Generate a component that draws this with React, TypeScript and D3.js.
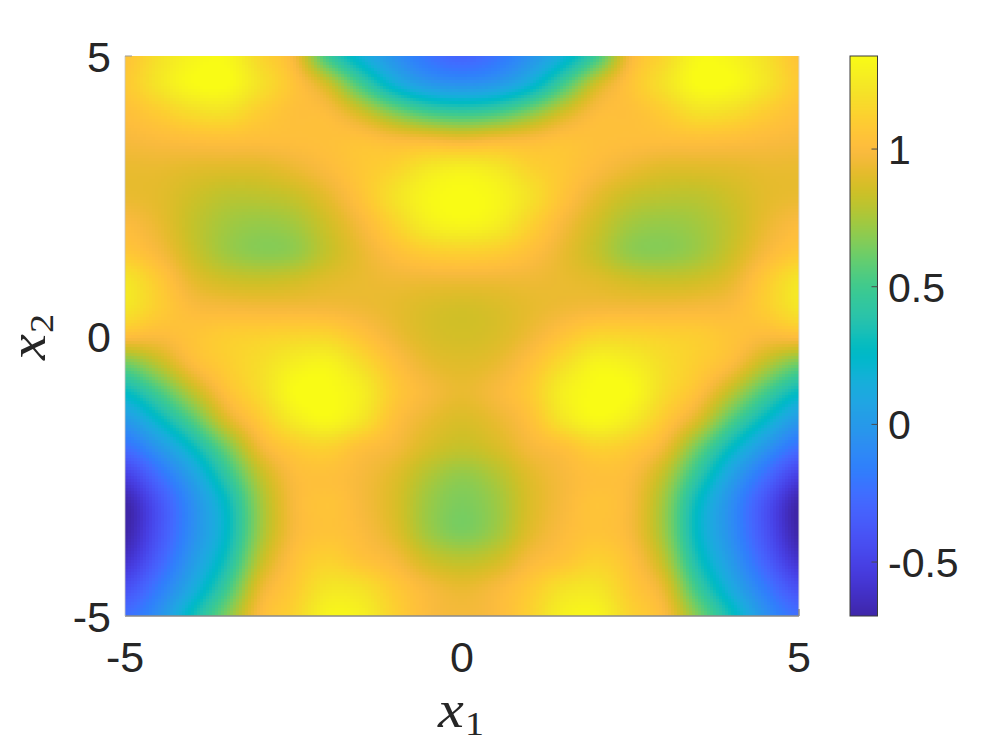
import React, { useEffect, useRef } from "react";
import * as d3 from "d3";

const x1Grid = [-5,-4.5,-4,-3.5,-3,-2.5,-2,-1.5,-1,-0.5,0,0.5,1,1.5,2,2.5,3,3.5,4,4.5,5];
const x2Grid = [5,4.5,4,3.5,3,2.5,2,1.5,1,0.5,0,-0.5,-1,-1.5,-2,-2.5,-3,-3.5,-4,-4.5,-5];
const fieldRows: number[][] = [
  [1.05,1.2,1.3,1.32,1.15,0.98,0.5,0.18,-0.05,-0.22,-0.3,-0.22,-0.05,0.18,0.5,0.98,1.15,1.32,1.3,1.2,1.05],
  [1.08,1.22,1.33,1.34,1.2,1.05,0.85,0.5,0.18,0.0,-0.05,0.0,0.18,0.5,0.85,1.05,1.2,1.34,1.33,1.22,1.08],
  [1.03,1.1,1.18,1.2,1.1,1.03,1.0,0.85,0.65,0.5,0.45,0.5,0.65,0.85,1.0,1.03,1.1,1.2,1.18,1.1,1.03],
  [0.98,1.0,1.02,1.03,1.02,1.02,1.03,1.04,1.0,0.98,0.95,0.98,1.0,1.04,1.03,1.02,1.02,1.03,1.02,1.0,0.98],
  [0.93,0.93,0.91,0.9,0.9,0.94,1.0,1.07,1.13,1.23,1.27,1.23,1.13,1.07,1.0,0.94,0.9,0.9,0.91,0.93,0.93],
  [0.93,0.91,0.85,0.8,0.8,0.83,0.92,1.05,1.2,1.31,1.34,1.31,1.2,1.05,0.92,0.83,0.8,0.8,0.85,0.91,0.93],
  [1.0,0.93,0.82,0.74,0.71,0.74,0.85,0.98,1.13,1.27,1.31,1.27,1.13,0.98,0.85,0.74,0.71,0.74,0.82,0.93,1.0],
  [1.07,0.98,0.84,0.73,0.68,0.7,0.82,0.93,1.03,1.1,1.12,1.1,1.03,0.93,0.82,0.7,0.68,0.73,0.84,0.98,1.07],
  [1.22,1.08,0.92,0.85,0.83,0.85,0.9,0.93,0.95,0.95,0.95,0.95,0.95,0.93,0.9,0.85,0.83,0.85,0.92,1.08,1.22],
  [1.22,1.1,1.0,0.98,0.97,0.97,0.97,0.95,0.92,0.88,0.86,0.88,0.92,0.95,0.97,0.97,0.97,0.98,1.0,1.1,1.22],
  [1.02,1.0,1.05,1.1,1.12,1.14,1.14,1.05,0.95,0.88,0.86,0.88,0.95,1.05,1.14,1.14,1.12,1.1,1.05,1.0,1.02],
  [0.62,0.8,1.0,1.1,1.18,1.27,1.3,1.18,1.03,0.93,0.9,0.93,1.03,1.18,1.3,1.27,1.18,1.1,1.0,0.8,0.62],
  [0.28,0.52,0.8,1.03,1.17,1.33,1.34,1.27,1.08,0.98,0.93,0.98,1.08,1.27,1.34,1.33,1.17,1.03,0.8,0.52,0.28],
  [0.0,0.25,0.55,0.88,1.08,1.25,1.32,1.22,1.03,0.93,0.88,0.93,1.03,1.22,1.32,1.25,1.08,0.88,0.55,0.25,0.0],
  [-0.25,-0.02,0.27,0.62,0.95,1.08,1.12,1.03,0.97,0.87,0.82,0.87,0.97,1.03,1.12,1.08,0.95,0.62,0.27,-0.02,-0.25],
  [-0.52,-0.25,0.05,0.42,0.8,1.0,1.03,0.98,0.9,0.77,0.7,0.77,0.9,0.98,1.03,1.0,0.8,0.42,0.05,-0.25,-0.52],
  [-0.7,-0.4,-0.07,0.27,0.72,0.98,1.05,0.98,0.88,0.72,0.65,0.72,0.88,0.98,1.05,0.98,0.72,0.27,-0.07,-0.4,-0.7],
  [-0.7,-0.4,-0.07,0.25,0.72,0.98,1.05,1.0,0.9,0.73,0.65,0.73,0.9,1.0,1.05,0.98,0.72,0.25,-0.07,-0.4,-0.7],
  [-0.6,-0.32,0.0,0.33,0.8,1.03,1.12,1.05,0.98,0.85,0.8,0.85,0.98,1.05,1.12,1.03,0.8,0.33,0.0,-0.32,-0.6],
  [-0.42,-0.18,0.12,0.48,0.92,1.08,1.22,1.2,1.08,0.98,0.93,0.98,1.08,1.2,1.22,1.08,0.92,0.48,0.12,-0.18,-0.42],
  [-0.25,-0.05,0.3,0.65,1.0,1.13,1.3,1.28,1.12,1.0,0.97,1.0,1.12,1.28,1.3,1.13,1.0,0.65,0.3,-0.05,-0.25],
];
const axisTicks = [-5, 0, 5];
const colorTicks = [-0.5, 0, 0.5, 1];
const colorDomain = [-0.696, 1.338];
const parula: number[][] = [
[.2422,.1504,.6603],[.2504,.165,.7076],[.2578,.1818,.7511],[.2647,.1978,.7952],[.2706,.2147,.8364],[.2751,.2342,.871],[.2783,.2559,.8991],[.2803,.2782,.9221],[.2813,.3006,.9414],[.281,.3228,.9579],[.2795,.3447,.9717],[.276,.3667,.9829],[.2699,.3892,.9906],[.2602,.4123,.9952],[.244,.4358,.9988],[.2206,.4603,.9973],[.1963,.4847,.9892],[.1834,.5074,.9798],[.1786,.5289,.9682],[.1764,.5499,.952],[.1687,.5703,.9359],[.154,.5902,.9218],[.146,.6091,.9079],[.138,.6276,.8973],[.1248,.6459,.8883],[.1113,.6635,.8763],[.0952,.6798,.8598],[.0689,.6948,.8394],[.0297,.7082,.8163],[.0036,.7203,.7917],[.0067,.7312,.766],[.0433,.7411,.7394],[.0964,.75,.712],[.1408,.7584,.6842],[.1717,.767,.6554],[.1938,.7758,.6251],[.2161,.7843,.5923],[.247,.7918,.5567],[.2906,.7973,.5188],[.3406,.8008,.4789],[.3909,.8029,.4354],[.4456,.8024,.3909],[.5044,.7993,.348],[.5616,.7942,.3045],[.6174,.7876,.2612],[.672,.7793,.2227],[.7242,.7698,.191],[.7738,.7598,.1646],[.8203,.7498,.1535],[.8634,.7406,.1596],[.9035,.733,.1774],[.9393,.7288,.21],[.9728,.7298,.2394],[.9956,.7434,.2371],[.997,.7659,.2199],[.9952,.7893,.2028],[.9892,.8136,.1885],[.9786,.8386,.1766],[.9676,.8639,.1643],[.961,.889,.1537],[.9597,.9135,.1423],[.9628,.9373,.1265],[.9691,.9606,.1064],[.9769,.9839,.0805],
];

const W = 997, H = 747;
const plot = { l: 125, r: 799, t: 56, b: 616 };
const bar = { l: 850, r: 877.5, t: 56, b: 616 };
const sans = "'Liberation Sans', Arial, sans-serif";
const serif = "'Liberation Serif', serif";
const ink = "#262626";

// Catmull-Rom lookup between the read grid values (MATLAB "shading interp" look).
function cubic(a: number, b: number, c: number, d: number, t: number) {
  return b + 0.5 * t * (c - a + t * (2 * a - 5 * b + 4 * c - d + t * (3 * (b - c) + d - a)));
}
function sampleField(fx: number, fy: number) {
  const nx = x1Grid.length, ny = x2Grid.length;
  const ix = Math.min(Math.floor(fx), nx - 2), iy = Math.min(Math.floor(fy), ny - 2);
  const tx = fx - ix, ty = fy - iy;
  const at = (r: number, c: number) =>
    fieldRows[Math.max(0, Math.min(ny - 1, r))][Math.max(0, Math.min(nx - 1, c))];
  const row = (r: number) => cubic(at(r, ix - 1), at(r, ix), at(r, ix + 1), at(r, ix + 2), tx);
  return cubic(row(iy - 1), row(iy), row(iy + 1), row(iy + 2), ty);
}

export default function App() {
  const ref = useRef<SVGSVGElement | null>(null);
  useEffect(() => {
    const svg = d3.select(ref.current);
    svg.selectAll("*").remove();

    const x = d3.scaleLinear().domain([-5, 5]).range([plot.l, plot.r]);
    const y = d3.scaleLinear().domain([-5, 5]).range([plot.b, plot.t]);
    const cy = d3.scaleLinear().domain(colorDomain).range([bar.b, bar.t]);
    const fxOf = d3.scaleLinear().domain([x1Grid[0], x1Grid[x1Grid.length - 1]]).range([0, x1Grid.length - 1]);
    const fyOf = d3.scaleLinear().domain([x2Grid[0], x2Grid[x2Grid.length - 1]]).range([0, x2Grid.length - 1]);
    const color = d3
      .scaleLinear<string>()
      .domain(parula.map((_, i) => colorDomain[0] + (i * (colorDomain[1] - colorDomain[0])) / (parula.length - 1)))
      .range(parula.map(([r, g, b]) => d3.rgb(r * 255, g * 255, b * 255).formatHex()))
      .clamp(true);

    const step = 3;
    const cells: { px: number; py: number; v: number }[] = [];
    for (let py = plot.t; py < plot.b; py += step) {
      for (let px = plot.l; px < plot.r; px += step) {
        const v = sampleField(fxOf(x.invert(px + step / 2)), fyOf(y.invert(py + step / 2)));
        cells.push({ px, py, v });
      }
    }
    svg.append("g").attr("shape-rendering", "crispEdges")
      .selectAll("rect").data(cells).join("rect")
      .attr("x", (d) => d.px).attr("y", (d) => d.py)
      .attr("width", (d) => Math.min(step, plot.r - d.px))
      .attr("height", (d) => Math.min(step, plot.b - d.py))
      .attr("fill", (d) => color(d.v));

    // axis remnants
    const axes = svg.append("g").attr("fill", "none");
    axes.append("line").attr("x1", plot.l).attr("x2", plot.r).attr("y1", plot.b).attr("y2", plot.b)
      .attr("stroke", "#8a8a8a").attr("stroke-width", 1.5);
    axes.append("line").attr("x1", plot.l).attr("x2", plot.l).attr("y1", plot.t).attr("y2", plot.b)
      .attr("stroke", "#c8c8c8").attr("stroke-width", 0.8);
    axes.append("line").attr("x1", plot.r).attr("x2", plot.r).attr("y1", plot.t).attr("y2", plot.b)
      .attr("stroke", "#d8d8d8").attr("stroke-width", 1);
    axes.append("line").attr("x1", plot.l).attr("x2", plot.l + 7).attr("y1", plot.t).attr("y2", plot.t)
      .attr("stroke", "#999").attr("stroke-width", 1);
    axes.append("line").attr("x1", plot.r).attr("x2", plot.r).attr("y1", plot.b - 7).attr("y2", plot.b)
      .attr("stroke", "#666").attr("stroke-width", 1);

    // tick labels
    const label = svg.append("g").attr("font-family", sans).attr("font-size", 43).attr("fill", ink);
    label.selectAll("text.xt").data(axisTicks).join("text").attr("class", "xt")
      .attr("x", (d) => x(d)).attr("y", plot.b + 56).attr("text-anchor", "middle").text((d) => String(d));
    label.selectAll("text.yt").data(axisTicks).join("text").attr("class", "yt")
      .attr("x", 111).attr("y", (d) => y(d) + 16).attr("text-anchor", "end").text((d) => String(d));

    // colorbar
    const cb = svg.append("g").attr("shape-rendering", "crispEdges");
    const levels = d3.range(bar.b - bar.t);
    cb.selectAll("rect").data(levels).join("rect")
      .attr("x", bar.l).attr("width", bar.r - bar.l)
      .attr("y", (d) => bar.t + d).attr("height", 1)
      .attr("fill", (d) => color(cy.invert(bar.t + d + 0.5)));
    svg.append("rect").attr("x", bar.l).attr("y", bar.t).attr("width", bar.r - bar.l).attr("height", bar.b - bar.t)
      .attr("fill", "none").attr("stroke", "#3a3a3a").attr("stroke-width", 1);
    svg.append("g").selectAll("line").data(colorTicks).join("line")
      .attr("x1", bar.r - 6).attr("x2", bar.r).attr("y1", (d) => cy(d)).attr("y2", (d) => cy(d))
      .attr("stroke", "#4a4a4a").attr("stroke-width", 1);
    label.selectAll("text.ct").data(colorTicks).join("text").attr("class", "ct")
      .attr("x", 888).attr("y", (d) => cy(d) + 15).attr("font-size", 41).text((d) => String(d));

    // axis titles
    const xt = svg.append("text").attr("font-family", serif).attr("fill", ink)
      .attr("transform", "translate(438,727) scale(1.12,1)");
    xt.append("tspan").attr("font-style", "italic").attr("font-size", 52).text("x");
    xt.append("tspan").attr("font-size", 34).attr("dx", 1).attr("dy", 8).text("1");

    const yt = svg.append("text").attr("font-family", serif).attr("fill", ink)
      .attr("transform", "translate(45,360) rotate(-90) scale(1.12,1)");
    yt.append("tspan").attr("font-style", "italic").attr("font-size", 52).text("x");
    yt.append("tspan").attr("font-size", 34).attr("dx", 1).attr("dy", 8).text("2");
  }, []);

  return (
    <svg
      ref={ref}
      width={W}
      height={H}
      viewBox={`0 0 ${W} ${H}`}
      style={{ position: "absolute", left: 0, top: 0, background: "#fff" }}
    />
  );
}
